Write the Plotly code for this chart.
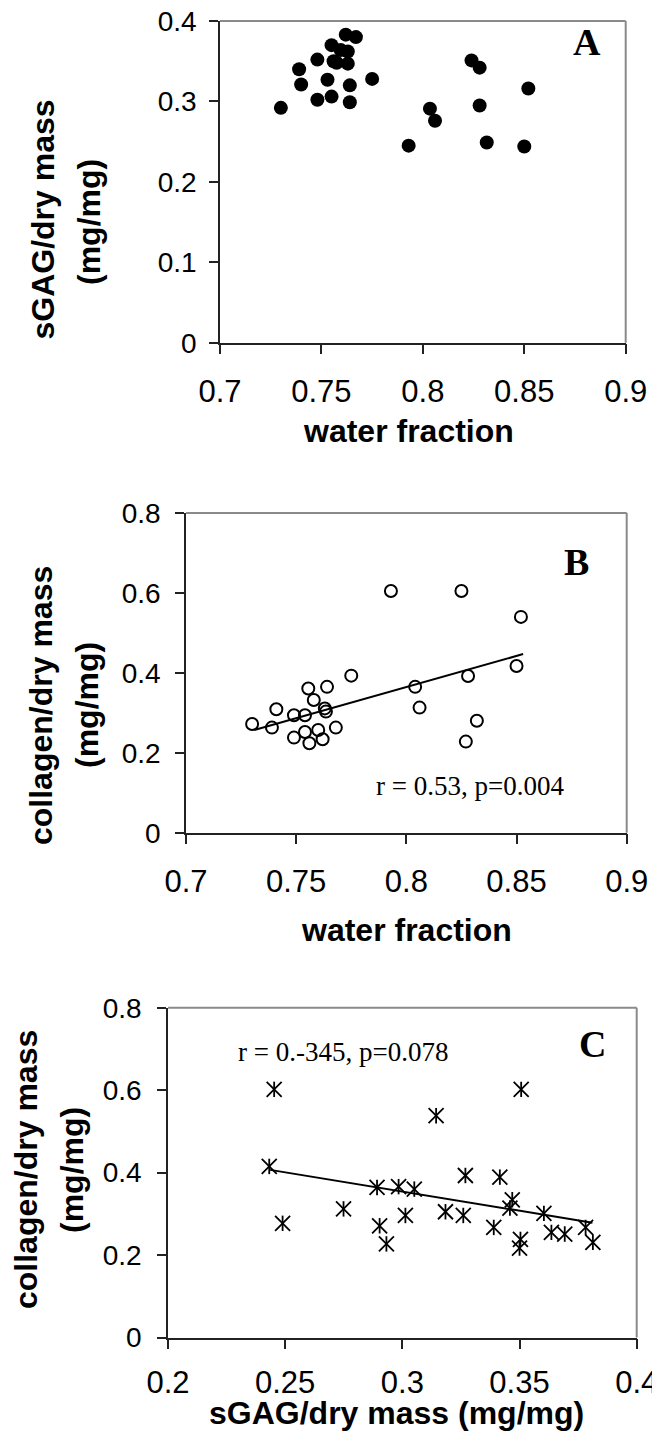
import plotly.graph_objects as go

W, H = 652, 1435

# ---- Panel A: sGAG content against water fraction ----
a_water = [0.730, 0.739, 0.740, 0.748, 0.748, 0.753, 0.755, 0.755, 0.756,
           0.7575, 0.7595, 0.762, 0.763, 0.763, 0.764, 0.764, 0.767, 0.775,
           0.793, 0.8035, 0.806, 0.824, 0.828, 0.828, 0.8315, 0.850, 0.852]
a_sgag = [0.292, 0.340, 0.321, 0.352, 0.302, 0.327, 0.370, 0.306, 0.350,
          0.348, 0.364, 0.383, 0.362, 0.347, 0.320, 0.299, 0.380, 0.328,
          0.245, 0.291, 0.276, 0.351, 0.342, 0.295, 0.249, 0.244, 0.316]

# ---- Panel B: collagen content against water fraction ----
b_water = [0.730, 0.739, 0.741, 0.749, 0.749, 0.754, 0.754, 0.7555, 0.756,
           0.758, 0.760, 0.762, 0.763, 0.7635, 0.764, 0.768, 0.775, 0.793,
           0.804, 0.806, 0.825, 0.828, 0.827, 0.832, 0.850, 0.852]
b_collagen = [0.272, 0.263, 0.309, 0.294, 0.238, 0.294, 0.252, 0.361, 0.224,
              0.332, 0.257, 0.234, 0.311, 0.303, 0.365, 0.263, 0.393, 0.605,
              0.365, 0.313, 0.605, 0.392, 0.228, 0.280, 0.417, 0.540]
b_fit_water = [0.731, 0.853]
b_fit_collagen = [0.257, 0.447]
b_stats = "r = 0.53, p=0.004"

# ---- Panel C: collagen content against sGAG content ----
c_sgag = [0.2453, 0.2432, 0.2489, 0.2749, 0.2892, 0.2903, 0.2932, 0.2984,
          0.3013, 0.3051, 0.3144, 0.3184, 0.3260, 0.3269, 0.3390, 0.3416,
          0.3469, 0.3459, 0.3507, 0.3504, 0.3500, 0.3604, 0.3636, 0.3693,
          0.3782, 0.3813]
c_collagen = [0.602, 0.415, 0.277, 0.312, 0.364, 0.271, 0.227, 0.366,
              0.296, 0.360, 0.538, 0.305, 0.296, 0.393, 0.267, 0.389,
              0.334, 0.314, 0.602, 0.238, 0.217, 0.301, 0.255, 0.251,
              0.267, 0.231]
c_fit_sgag = [0.2436, 0.3811]
c_fit_collagen = [0.4066, 0.2786]
c_stats = "r = 0.-345, p=0.078"

water_ticks = [0.7, 0.75, 0.8, 0.85, 0.9]
water_labels = ["0.7", "0.75", "0.8", "0.85", "0.9"]
sgag_ticks_y = [0, 0.1, 0.2, 0.3, 0.4]
sgag_labels_y = ["0", "0.1", "0.2", "0.3", "0.4"]
collagen_ticks = [0, 0.2, 0.4, 0.6, 0.8]
collagen_labels = ["0", "0.2", "0.4", "0.6", "0.8"]
sgag_ticks_x = [0.2, 0.25, 0.3, 0.35, 0.4]
sgag_labels_x = ["0.2", "0.25", "0.3", "0.35", "0.4"]

SANS = "Liberation Sans, Arial, Helvetica, sans-serif"
SERIF = "Liberation Serif, Times New Roman, serif"


def xdom(left, right):
    return [left / W, right / W]


def ydom(top, bottom):
    return [1 - bottom / H, 1 - top / H]


def px(x):
    return x / W


def py(y):
    return 1 - y / H


fig = go.Figure()

# Panel A markers
fig.add_trace(go.Scatter(x=a_water, y=a_sgag, mode="markers", xaxis="x", yaxis="y",
                         marker=dict(symbol="circle", size=14, color="black",
                                     line=dict(width=0))))

# Panel B markers and fitted line
fig.add_trace(go.Scatter(x=b_fit_water, y=b_fit_collagen, mode="lines", xaxis="x2", yaxis="y2",
                         line=dict(color="black", width=2)))
fig.add_trace(go.Scatter(x=b_water, y=b_collagen, mode="markers", xaxis="x2", yaxis="y2",
                         marker=dict(symbol="circle-open", size=12, color="black",
                                     line=dict(width=2, color="black"))))

# Panel C fitted line and six-armed asterisks (an X plus a vertical stroke)
fig.add_trace(go.Scatter(x=c_fit_sgag, y=c_fit_collagen, mode="lines", xaxis="x3", yaxis="y3",
                         line=dict(color="black", width=2)))
fig.add_trace(go.Scatter(x=c_sgag, y=c_collagen, mode="markers", xaxis="x3", yaxis="y3",
                         marker=dict(symbol="x-thin-open", size=15, color="black",
                                     line=dict(width=1.8, color="black"))))
fig.add_trace(go.Scatter(x=c_sgag, y=c_collagen, mode="markers", xaxis="x3", yaxis="y3",
                         marker=dict(symbol="line-ns-open", size=11, color="black",
                                     line=dict(width=1.8, color="black"))))

axis_common = dict(showline=True, linecolor="#222", linewidth=1.5, ticks="outside",
                   tickcolor="#222", tickwidth=1.5, showgrid=False, zeroline=False,
                   fixedrange=True, automargin=False)
xfont = dict(family=SANS, size=31, color="black")
yfont = dict(family=SANS, size=28, color="black")

fig.update_layout(
    template="none",
    width=W, height=H, margin=dict(l=0, r=0, t=0, b=0, pad=0, autoexpand=False),
    paper_bgcolor="white", plot_bgcolor="white", showlegend=False,
    xaxis=dict(domain=xdom(220, 625.7), range=[0.7, 0.9], anchor="y",
               tickvals=water_ticks, ticktext=water_labels, ticklen=10,
               tickfont=xfont, ticklabelstandoff=10, ticklabeloverflow="allow",
               **axis_common),
    yaxis=dict(domain=ydom(21, 342.7), range=[0, 0.4], anchor="x",
               tickvals=sgag_ticks_y, ticktext=sgag_labels_y, ticklen=9,
               tickfont=yfont, ticklabelstandoff=7, **axis_common),
    xaxis2=dict(domain=xdom(186, 626.7), range=[0.7, 0.9], anchor="y2",
                tickvals=water_ticks, ticktext=water_labels, ticklen=10,
                tickfont=xfont, ticklabelstandoff=10, ticklabeloverflow="allow",
                **axis_common),
    yaxis2=dict(domain=ydom(513, 832.7), range=[0, 0.8], anchor="x2",
                tickvals=collagen_ticks, ticktext=collagen_labels, ticklen=9,
                tickfont=yfont, ticklabelstandoff=9, **axis_common),
    xaxis3=dict(domain=xdom(168, 636.7), range=[0.2, 0.4], anchor="y3",
                tickvals=sgag_ticks_x, ticktext=sgag_labels_x, ticklen=10,
                tickfont=xfont, ticklabelstandoff=7, ticklabeloverflow="allow",
                **axis_common),
    yaxis3=dict(domain=ydom(1007.7, 1337.5), range=[0, 0.8], anchor="x3",
                tickvals=collagen_ticks, ticktext=collagen_labels, ticklen=9,
                tickfont=yfont, ticklabelstandoff=10, **axis_common),
)

# Grey top and right frame edges of each plot area
shapes = []
for xa, ya in (("x", "y"), ("x2", "y2"), ("x3", "y3")):
    shapes.append(dict(type="line", xref=f"{xa} domain", yref=f"{ya} domain",
                       x0=0, x1=1, y0=1, y1=1, line=dict(color="#8a8a8a", width=2)))
    shapes.append(dict(type="line", xref=f"{xa} domain", yref=f"{ya} domain",
                       x0=1, x1=1, y0=0, y1=1, line=dict(color="#8a8a8a", width=2)))
fig.update_layout(shapes=shapes)

title_font = dict(family=SANS, size=32, color="black")
ann = []


def add_text(text, x, y, font, angle=0):
    ann.append(dict(text=text, x=px(x), y=py(y), xref="paper", yref="paper",
                    xanchor="center", yanchor="middle", showarrow=False,
                    textangle=angle, font=font))


def bold(s):
    return f"<b>{s}</b>"


# Axis titles
add_text(bold("sGAG/dry mass"), 42.5, 220, title_font, -90)
add_text(bold("(mg/mg)"), 89, 222, title_font, -90)
add_text(bold("water fraction"), 408, 431, title_font)

add_text(bold("collagen/dry mass"), 41, 706, title_font, -90)
add_text(bold("(mg/mg)"), 87, 705, title_font, -90)
add_text(bold("water fraction"), 407, 930, title_font)

add_text(bold("collagen/dry mass"), 26, 1170, title_font, -90)
add_text(bold("(mg/mg)"), 72, 1170, title_font, -90)
add_text(bold("sGAG/dry mass (mg/mg)"), 396.5, 1413, title_font)

# Panel letters
letter_font = dict(family=SERIF, size=38, color="black")
add_text(bold("A"), 587, 42.5, letter_font)
add_text(bold("B"), 576, 562, letter_font)
add_text(bold("C"), 592, 1043.5, letter_font)

# Correlation statistics
stats_font = dict(family=SERIF, size=27, color="black")
add_text(b_stats, 470, 786, stats_font)
add_text(c_stats, 343, 1052, stats_font)

fig.update_layout(annotations=ann)

fig.write_html("out.html")
